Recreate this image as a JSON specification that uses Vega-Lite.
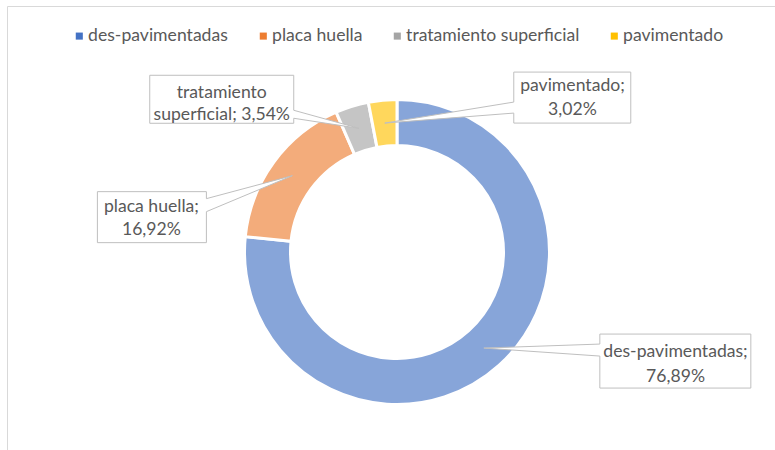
{
  "$schema": "https://vega.github.io/schema/vega-lite/v6.json",
  "autosize": "none",
  "width": 780,
  "height": 492,
  "padding": {"left": 7, "top": 6, "right": 0, "bottom": 0},
  "background": "white",
  "config": {"view": {"stroke": "#d9d9d9", "strokeWidth": 1}, "font": "Lato"},
  "data": {"values": [
    {"tipo": "des-pavimentadas", "porcentaje": 76.89, "orden": 1},
    {"tipo": "placa huella", "porcentaje": 16.92, "orden": 2},
    {"tipo": "tratamiento superficial", "porcentaje": 3.54, "orden": 3},
    {"tipo": "pavimentado", "porcentaje": 3.02, "orden": 4}
  ]},
  "transform": [
    {"window": [{"op": "sum", "field": "porcentaje", "as": "acum"}], "sort": [{"field": "orden"}]},
    {"joinaggregate": [{"op": "sum", "field": "porcentaje", "as": "total"}]},
    {"calculate": "2*PI*(datum.acum - datum.porcentaje/2)/datum.total", "as": "angulo"},
    {"calculate": "sin(datum.angulo)", "as": "ax"},
    {"calculate": "cos(datum.angulo)", "as": "ay"},
    {"calculate": "replace(format(datum.porcentaje, '.2f'), '.', ',') + '%'", "as": "pct"},
    {"calculate": "datum.tipo + ';|' + datum.pct", "as": "etiqueta"},
    {"calculate": "replace(datum.tipo, ' ', '|') + '; ' + datum.pct", "as": "etiqueta2"}
  ],
  "layer": [
    {
      "mark": {"type": "arc", "outerRadius": 152.5, "innerRadius": 106.5, "stroke": "white", "strokeWidth": 3, "fillOpacity": 0.64},
      "encoding": {
        "theta": {"field": "porcentaje", "type": "quantitative", "stack": true},
        "order": {"field": "orden", "type": "quantitative"},
        "color": {
          "field": "tipo", "type": "nominal",
          "scale": {"domain": ["des-pavimentadas", "placa huella", "tratamiento superficial", "pavimentado"], "range": ["#4472c4", "#ed7d31", "#a5a5a5", "#ffc000"]},
          "legend": {
            "title": null, "orient": "none", "legendX": 63.5, "legendY": 21, "direction": "horizontal", "columns": 4,
            "symbolType": "square", "symbolSize": 50, "labelFont": "Lato", "labelFontSize": 17.6, "labelColor": "#595959",
            "labelLimit": 400, "columnPadding": 26, "labelOffset": 0, "padding": 0, "symbolStrokeWidth": 0, "symbolOpacity": 1,
            "encode": {"symbols": {"update": {"fillOpacity": {"value": 1}, "strokeWidth": {"value": 0}}}}
          }
        }
      }
    },
    {
      "mark": {"type": "point", "filled": true, "fill": "white", "stroke": "#bfbfbf", "strokeWidth": 1, "size": 4, "opacity": 1, "fillOpacity": 1, "strokeOpacity": 1},
      "encoding": {
        "x": {"field": "ax", "type": "quantitative", "scale": {"domain": [-3.011583, 3.011583], "nice": false, "zero": false}, "axis": null},
        "y": {"field": "ay", "type": "quantitative", "scale": {"domain": [-1.899614, 1.899614], "nice": false, "zero": false}, "axis": null},
        "shape": {
          "field": "orden", "type": "nominal", "legend": null,
          "scale": {
            "domain": [1, 2, 3, 4],
            "range": [
              "M116,-14L267,-14L267,40L116,40L116,8L0,0L116,-4Z",
              "M-195,16L-86,16L-86,23L0,0L-86,36L-86,67L-195,67Z",
              "M-209,-53L-65,-53L-65,-18L0,0L-65,-10L-65,-5L-209,-5Z",
              "M129,-51L246,-51L246,0L129,0L129,-10L0,0L129,-21Z"
            ]
          }
        }
      }
    },
    {
      "transform": [{"filter": "datum.tipo === 'des-pavimentadas'"}],
      "mark": {"type": "text", "dx": 191.7, "dy": 3.5, "align": "center", "baseline": "middle", "font": "Lato", "fontSize": 17.6, "color": "#595959", "lineBreak": "|", "lineHeight": 25},
      "encoding": {
        "x": {"field": "ax", "type": "quantitative", "scale": {"domain": [-3.011583, 3.011583], "nice": false, "zero": false}, "axis": null},
        "y": {"field": "ay", "type": "quantitative", "scale": {"domain": [-1.899614, 1.899614], "nice": false, "zero": false}, "axis": null},
        "text": {"field": "etiqueta"}
      }
    },
    {
      "transform": [{"filter": "datum.tipo === 'placa huella'"}],
      "mark": {"type": "text", "dx": -141, "dy": 31.5, "align": "center", "baseline": "middle", "font": "Lato", "fontSize": 17.6, "color": "#595959", "lineBreak": "|", "lineHeight": 23},
      "encoding": {
        "x": {"field": "ax", "type": "quantitative", "scale": {"domain": [-3.011583, 3.011583], "nice": false, "zero": false}, "axis": null},
        "y": {"field": "ay", "type": "quantitative", "scale": {"domain": [-1.899614, 1.899614], "nice": false, "zero": false}, "axis": null},
        "text": {"field": "etiqueta"}
      }
    },
    {
      "transform": [{"filter": "datum.tipo === 'tratamiento superficial'"}],
      "mark": {"type": "text", "dx": -137, "dy": -35.5, "align": "center", "baseline": "middle", "font": "Lato", "fontSize": 17.6, "color": "#595959", "lineBreak": "|", "lineHeight": 22},
      "encoding": {
        "x": {"field": "ax", "type": "quantitative", "scale": {"domain": [-3.011583, 3.011583], "nice": false, "zero": false}, "axis": null},
        "y": {"field": "ay", "type": "quantitative", "scale": {"domain": [-1.899614, 1.899614], "nice": false, "zero": false}, "axis": null},
        "text": {"field": "etiqueta2"}
      }
    },
    {
      "transform": [{"filter": "datum.tipo === 'pavimentado'"}],
      "mark": {"type": "text", "dx": 187.7, "dy": -37.5, "align": "center", "baseline": "middle", "font": "Lato", "fontSize": 17.6, "color": "#595959", "lineBreak": "|", "lineHeight": 24},
      "encoding": {
        "x": {"field": "ax", "type": "quantitative", "scale": {"domain": [-3.011583, 3.011583], "nice": false, "zero": false}, "axis": null},
        "y": {"field": "ay", "type": "quantitative", "scale": {"domain": [-1.899614, 1.899614], "nice": false, "zero": false}, "axis": null},
        "text": {"field": "etiqueta"}
      }
    }
  ]
}
